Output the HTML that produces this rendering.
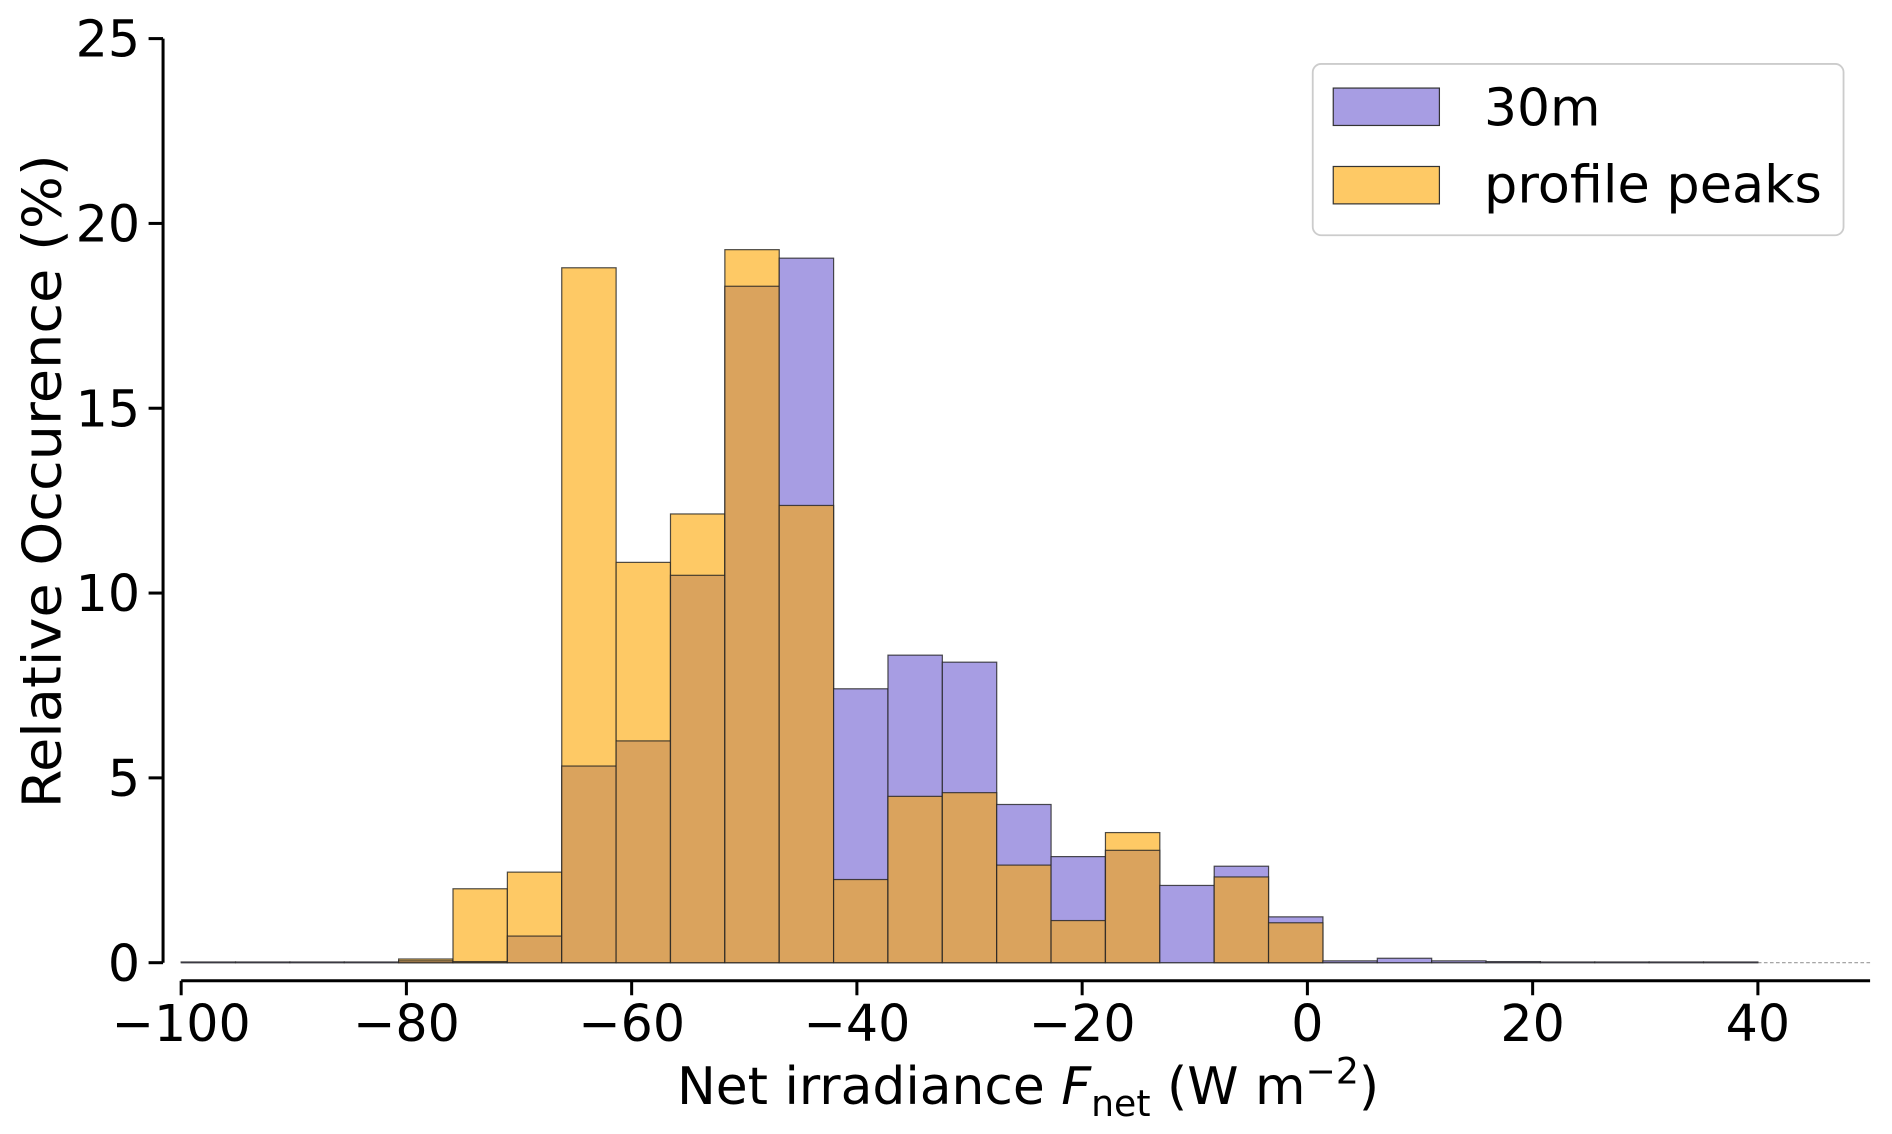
<!DOCTYPE html>
<html><head><meta charset="utf-8"><style>html,body{margin:0;padding:0;background:#fff;}svg{display:block;}text{font-family:"DejaVu Sans","Liberation Sans",sans-serif;fill:#000;}</style></head>
<body>
<svg id="chart" width="1892" height="1134" viewBox="0 0 1568 940" xmlns="http://www.w3.org/2000/svg">
<g id="bars"></g>
<g id="axes"></g>
<g>
<rect x="1088" y="53" width="440" height="142" rx="7" fill="#fff" stroke="#ccc" stroke-width="1.5"/>
<rect x="1105" y="73" width="88" height="31" fill="#a79de3" stroke="#333" stroke-width="1"/>
<text x="1230" y="104" font-size="43">30m</text>
<rect x="1105" y="138" width="88" height="31" fill="#fec965" stroke="#333" stroke-width="1"/>
<text x="1230" y="168" font-size="43" textLength="280" lengthAdjust="spacingAndGlyphs">profile peaks</text>
</g>
<text x="852" y="915" font-size="43" text-anchor="middle">Net irradiance <tspan font-style="italic">F</tspan><tspan font-size="30" dy="10">net</tspan><tspan dy="-10"> (W m</tspan><tspan font-size="30" dy="-17">−2</tspan><tspan dy="17">)</tspan></text>
<text transform="translate(50,399) rotate(-90)" font-size="44" text-anchor="middle" textLength="542" lengthAdjust="spacingAndGlyphs">Relative Occurence (%)</text>
</svg>
<script>
const binStart = -100;
const binWidth = 140/29;
const series30m = [0.02,0.02,0.02,0.02,0.05,0.03,0.72,5.32,6.0,10.48,18.3,19.06,7.41,8.32,8.13,4.28,2.87,3.04,2.09,2.61,1.24,0.05,0.12,0.05,0.03,0.02,0.02,0.02,0.02];
const seriesPeaks = [0,0,0,0,0.1,2.0,2.45,18.8,10.83,12.14,19.29,12.37,2.25,4.5,4.6,2.64,1.14,3.52,0,2.32,1.08,0,0,0,0,0,0,0,0];
const yTicks = [0,5,10,15,20,25];
const xTicks = [-100,-80,-60,-40,-20,0,20,40];

const NS = "http://www.w3.org/2000/svg";
function xs(v){return 150 + (v+100)*(1457-150)/140;}
function ys(v){return 798 - v*(798-32)/25;}
const bars = document.getElementById('bars');
const axes = document.getElementById('axes');
function mk(tag, attrs, parent){const e=document.createElementNS(NS,tag);for(const k in attrs)e.setAttribute(k,attrs[k]);parent.appendChild(e);return e;}

let bl = mk('line',{x1:150,x2:1457,y1:798,y2:798,stroke:'#888','stroke-width':1.2},bars);


let dl = mk('line',{x1:1457,x2:1550,y1:798,y2:798,stroke:'#999','stroke-width':1,'stroke-dasharray':'3,2'},bars);



for(let i=0;i<series30m.length;i++){
  const x0=xs(binStart+i*binWidth), x1=xs(binStart+(i+1)*binWidth);
  const a=series30m[i], b=seriesPeaks[i];
  const hi=Math.max(a,b), lo=Math.min(a,b);
  const topColor = a>=b ? '#a79de3' : '#fec965';
  if(hi>0){
    const r=mk('rect',{x:x0,y:ys(hi),width:x1-x0,height:ys(0)-ys(hi),fill:topColor,stroke:'#222','stroke-width':1,'stroke-opacity':0.8},bars);
    
    
  }
  if(lo>0){
    const r=mk('rect',{x:x0,y:ys(lo),width:x1-x0,height:ys(0)-ys(lo),fill:'#daa35d',stroke:'#222','stroke-width':1,'stroke-opacity':0.8},bars);
    
    
  }
}

let ya = mk('line',{x1:135,x2:135,y1:32,y2:798,stroke:'#000','stroke-width':2.5},axes);


yTicks.forEach(t=>{
  const tk=mk('line',{x1:123,x2:135,y1:ys(t),y2:ys(t),stroke:'#000','stroke-width':2.5},axes);
  
  
  const tx=mk('text',{x:116,y:ys(t)+15,'font-size':42,'text-anchor':'end'},axes);
  tx.textContent=t;
  
  
});
let xa = mk('line',{x1:150,x2:1550,y1:813,y2:813,stroke:'#000','stroke-width':2.5},axes);


xTicks.forEach(t=>{
  const tk=mk('line',{x1:xs(t),x2:xs(t),y1:813,y2:825,stroke:'#000','stroke-width':2.5},axes);
  
  
  const tx=mk('text',{x:xs(t),y:863,'font-size':42,'text-anchor':'middle'},axes);
  tx.textContent=(t<0?'\u2212'+Math.abs(t):t);
  
  
});
</script>
</body></html>
